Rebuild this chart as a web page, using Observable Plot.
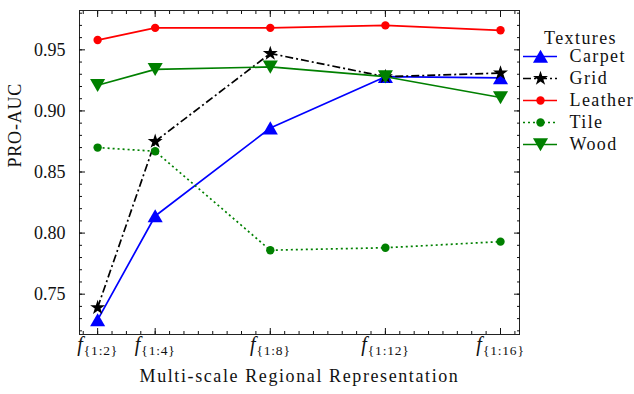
<!DOCTYPE html>
<html><head><meta charset="utf-8">
<script src="https://cdn.jsdelivr.net/npm/d3@7"></script>
<script src="https://cdn.jsdelivr.net/npm/@observablehq/plot@0.6"></script>
<style>
html,body{margin:0;padding:0;background:#fff;}
#wrap{position:relative;width:634px;height:394px;font-family:"Liberation Serif",serif;color:#111;}
#legend{position:absolute;left:518px;top:20px;}
svg text, svg tspan{font-family:"Liberation Serif",serif !important;}
</style></head><body><div id="wrap"><div id="chart"></div><div id="legend"></div></div>
<script>
// ---- data ----
const scales = [2, 4, 8, 12, 16];
const carpet  = [0.729, 0.814, 0.886, 0.928, 0.927];
const grid    = [0.739, 0.875, 0.947, 0.928, 0.931];
const leather = [0.958, 0.968, 0.968, 0.970, 0.966];
const tile    = [0.870, 0.867, 0.786, 0.788, 0.793];
const wood    = [0.921, 0.934, 0.936, 0.928, 0.911];
const seriesNames = ["Carpet", "Grid", "Leather", "Tile", "Wood"];
const seriesValues = [carpet, grid, leather, tile, wood];
const yTicks = [0.75, 0.80, 0.85, 0.90, 0.95];
const yMinor = d3.range(72, 99).map(d => d / 100);
const xMinor = d3.range(3, 34).map(d => d / 2);

// ---- styles ----
const colors  = ["#0000ff", "#000000", "#ff0000", "#008000", "#008000"];
const dashes  = [null, "8,3,2,3", null, "2,3", null];
const symbols = ["triangle", "star", "circle", "circle", "triangle"];
const rotates = [0, 0, 0, 0, 180];
const radii   = [5.6, 4.7, 4.2, 4.2, 5.6];
const dys     = [2, 0, 0, 0, -2];
const FONT = "'Liberation Serif', serif";
const FS = 18;

const rows = seriesNames.flatMap((name, i) => scales.map((s, j) => ({series: name, i, x: s, y: seriesValues[i][j]})));

const seriesMarks = seriesNames.flatMap((name, i) => {
  const d = rows.filter(r => r.series === name);
  return [
    Plot.line(d, {x: "x", y: "y", stroke: colors[i], strokeWidth: 1.7, strokeDasharray: dashes[i], strokeLinecap: "butt"}),
    Plot.dot(d, {x: "x", y: "y", symbol: symbols[i], r: radii[i], fill: colors[i], stroke: "none", rotate: rotates[i], dy: dys[i]})
  ];
});

const chart = Plot.plot({
  width: 634, height: 394,
  marginLeft: 79, marginRight: 115, marginTop: 10, marginBottom: 60,
  style: {fontFamily: FONT, fontSize: FS + "px", color: "#111", background: "white"},
  x: {type: "linear", domain: [1.37, 16.66]},
  y: {domain: [0.717, 0.9822]},
  marks: [
    ...seriesMarks,
    Plot.frame({stroke: "#222", strokeWidth: 1}),
    Plot.axisY(yTicks, {anchor: "left", tickSize: -6, tickFormat: () => "", label: null}),
    Plot.axisY(yTicks, {anchor: "right", tickSize: -6, tickFormat: () => "", label: null}),
    Plot.axisY(yMinor, {anchor: "left", tickSize: -3, tickFormat: () => "", label: null}),
    Plot.axisY(yMinor, {anchor: "right", tickSize: -3, tickFormat: () => "", label: null}),
    Plot.axisX(scales, {anchor: "bottom", tickSize: -6, tickFormat: () => "", label: null}),
    Plot.axisX(scales, {anchor: "top", tickSize: -6, tickFormat: () => "", label: null}),
    Plot.axisX(xMinor, {anchor: "bottom", tickSize: -3, tickFormat: () => "", label: null}),
    Plot.axisX(xMinor, {anchor: "top", tickSize: -3, tickFormat: () => "", label: null}),
    Plot.axisY(yTicks, {anchor: "left", tickSize: 0, tickPadding: 14, tickFormat: d => d.toFixed(2), label: null, fontSize: FS, fontFamily: FONT}),
    Plot.text(scales, {x: d => d, text: d => `{1:${d}}`, frameAnchor: "bottom", dy: 16, fontSize: FS, fontFamily: FONT}),
    Plot.text(["PRO-AUC"], {frameAnchor: "left", dx: -64, dy: -5, rotate: -90, fontSize: FS, fontFamily: FONT}),
    Plot.text(["Multi-scale Regional Representation"], {frameAnchor: "bottom", dy: 47, fontSize: FS, fontFamily: FONT})
  ]
});
document.getElementById("chart").appendChild(chart);

d3.select(chart).selectAll("text").each(function() {
  const t = this.textContent;
  const el = d3.select(this);
  if (/^\{1:\d+\}$/.test(t)) {
    el.text(null);
    el.append("tspan").attr("font-style", "italic").attr("font-size", "20px").text("f");
    el.append("tspan").attr("font-size", "13.5px").attr("letter-spacing", "0.8px").attr("dx", "1").attr("dy", "4").text(t);
  } else if (t === "PRO-AUC") {
    el.attr("letter-spacing", "0.8px");
  } else if (/[A-Za-z]/.test(t)) {
    el.attr("letter-spacing", "1.6px");
  }
});

// ---- legend ----
const legendRows = seriesNames.map((name, i) => ({name, i}));
const legend = Plot.plot({
  width: 116, height: 150,
  marginLeft: 5, marginRight: 77, marginTop: 24, marginBottom: 15,
  style: {fontFamily: FONT, fontSize: FS + "px", color: "#111", background: "transparent", overflow: "visible"},
  x: {domain: [0, 1], axis: null},
  y: {type: "band", domain: seriesNames, padding: 0, axis: null},
  marks: [
    ...legendRows.map(r => Plot.ruleY([r], {y: "name", x1: 0, x2: 1, stroke: colors[r.i], strokeWidth: 1.7, strokeDasharray: dashes[r.i]})),
    ...legendRows.map(r => Plot.dot([r], {y: "name", x: 0.5, symbol: symbols[r.i], r: radii[r.i], fill: colors[r.i], stroke: "none", rotate: rotates[r.i], dy: dys[r.i]})),
    Plot.text(legendRows, {y: "name", x: 1, text: "name", dx: 12, textAnchor: "start", fontSize: FS, fontFamily: FONT}),
    Plot.text(["Textures"], {frameAnchor: "top-left", dx: 57, dy: -13, textAnchor: "middle", fontSize: FS, fontFamily: FONT})
  ]
});
document.getElementById("legend").appendChild(legend);
d3.select(legend).selectAll("text").attr("letter-spacing", "1.4px");
</script>
</body></html>
